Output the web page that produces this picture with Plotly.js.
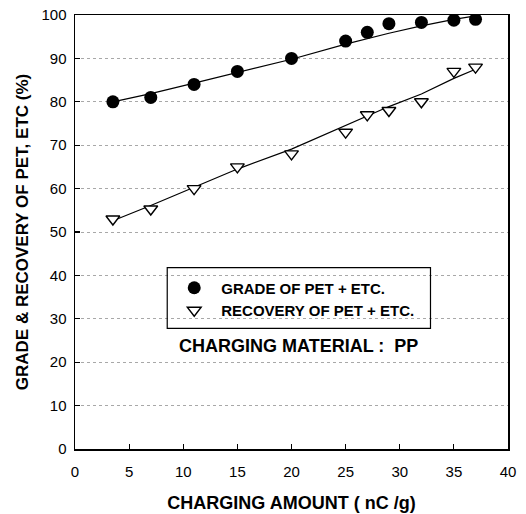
<!DOCTYPE html>
<html>
<head>
<meta charset="utf-8">
<script src="https://cdn.plot.ly/plotly-3.0.1.min.js"></script>
<style>html,body{margin:0;padding:0;background:#fff;}#chart{width:526px;height:514px;}</style>
</head>
<body>
<div id="chart"></div>
<script>
// Data
const chargingAmount = [3.5, 7, 11, 15, 20, 25, 27, 29, 32, 35, 37];
const gradePET = [80, 81, 84, 87, 90, 94, 96, 98, 98.3, 98.8, 99];
const recoveryPET = [53, 55.3, 60, 65, 68, 73, 77, 78, 80, 87, 88];
const gradeFit = [80.0, 81.9, 84.3, 86.8, 89.8, 93.3, 94.6, 95.8, 97.5, 99.0, 99.8];
const recoveryFit = [52.6, 56.1, 60.3, 64.5, 69.1, 74.5, 76.6, 78.9, 81.8, 85.4, 87.5];
const xTicks = [0, 5, 10, 15, 20, 25, 30, 35, 40];
const yTicks = [0, 10, 20, 30, 40, 50, 60, 70, 80, 90, 100];
const seriesNames = ['GRADE OF PET + ETC.', 'RECOVERY OF PET + ETC.'];

const FONT = 'Liberation Sans, Arial, Helvetica, sans-serif';
const BOLD = 'Liberation Sans, Arial, Helvetica, sans-serif';

const traces = [
  {x: chargingAmount, y: gradeFit, mode: 'lines', line: {color: '#000', width: 1.2}, showlegend: false, hoverinfo: 'skip'},
  {x: chargingAmount, y: recoveryFit, mode: 'lines', line: {color: '#000', width: 1.2}, showlegend: false, hoverinfo: 'skip'},
  {x: chargingAmount, y: gradePET, mode: 'markers', name: seriesNames[0],
   marker: {symbol: 'circle', size: 13, color: '#000', line: {width: 0}}},
  {x: chargingAmount, y: recoveryPET, mode: 'markers', name: seriesNames[1],
   marker: {symbol: 'triangle-down', size: 12, color: '#fff', line: {color: '#000', width: 1.4}}}
];

const layout = {
  width: 526, height: 514,
  margin: {l: 75, r: 18, t: 15, b: 65},
  paper_bgcolor: '#fff', plot_bgcolor: '#fff',
  font: {family: FONT, color: '#000', size: 15},
  showlegend: true,
  legend: {
    x: 0.213, xanchor: 'left', y: 0.409, yanchor: 'top',
    bgcolor: 'rgba(0,0,0,0)', borderwidth: 0,
    itemwidth: 44,
    font: {family: BOLD, size: 15, weight: 'bold', color: '#000'}
  },
  xaxis: {
    range: [0, 40], tickvals: xTicks, ticktext: xTicks.map(String),
    showgrid: false, zeroline: false,
    showline: true, linecolor: '#000', linewidth: 1.5, mirror: true,
    ticks: 'inside', ticklen: 5, tickcolor: '#000', tickwidth: 1.2,
    ticklabelstandoff: 8,
    tickfont: {family: FONT, size: 15, color: '#000'},
    title: {text: 'CHARGING AMOUNT ( nC /g)', font: {family: BOLD, size: 18, weight: 'bold', color: '#000'}, standoff: 18}
  },
  yaxis: {
    range: [0, 100], tickvals: yTicks, ticktext: yTicks.map(String),
    showgrid: true, gridcolor: '#a8a8a8', griddash: 'dot', gridwidth: 1,
    zeroline: false,
    showline: true, linecolor: '#000', linewidth: 1.5, mirror: true,
    ticks: 'inside', ticklen: 5, tickcolor: '#000', tickwidth: 1.2,
    ticklabelstandoff: 4,
    tickfont: {family: FONT, size: 15, color: '#000'},
    title: {text: 'GRADE & RECOVERY OF PET, ETC (%)', font: {family: BOLD, size: 17, weight: 'bold', color: '#000'}, standoff: 8}
  },
  shapes: [
    {type: 'rect', xref: 'paper', yref: 'paper', x0: 0.213, x1: 0.821, y0: 0.278, y1: 0.418,
     line: {color: '#000', width: 1.2}, fillcolor: 'rgba(0,0,0,0)'}
  ],
  annotations: [
    {text: 'CHARGING MATERIAL :  PP', xref: 'paper', yref: 'paper', x: 0.517, y: 0.237,
     xanchor: 'center', yanchor: 'middle', showarrow: false,
     font: {family: BOLD, size: 18, weight: 'bold', color: '#000'}}
  ]
};

Plotly.newPlot('chart', traces, layout, {displayModeBar: false, staticPlot: true});
</script>
</body>
</html>
